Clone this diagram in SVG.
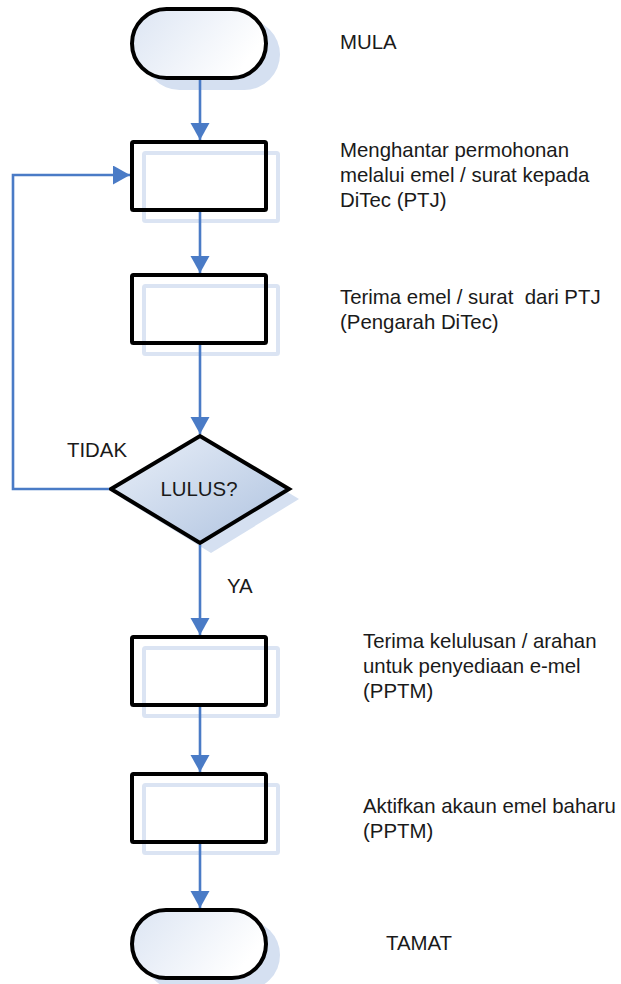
<svg xmlns="http://www.w3.org/2000/svg" width="621" height="984" viewBox="0 0 621 984">
  <defs>
    <linearGradient id="termGrad" x1="0" y1="0" x2="1" y2="0.4">
      <stop offset="0" stop-color="#dce5f3"/>
      <stop offset="1" stop-color="#ffffff"/>
    </linearGradient>
    <linearGradient id="diaGrad" x1="0" y1="0" x2="1" y2="1">
      <stop offset="0" stop-color="#eaf0f9"/>
      <stop offset="1" stop-color="#aec2df"/>
    </linearGradient>
    <marker id="arrow" markerUnits="userSpaceOnUse" markerWidth="18" markerHeight="20" refX="17" refY="9.5" orient="auto" viewBox="0 0 18 20">
      <path d="M0,0 L17,9.5 L0,19 Z" fill="#4a7bc6"/>
    </marker>
    <style>
      .term { fill: url(#termGrad); stroke: #000; stroke-width: 4; }
      .box { fill: none; stroke: #000; stroke-width: 4; }
      .dia { fill: url(#diaGrad); stroke: #000; stroke-width: 4; stroke-linejoin: miter; }
      .shfill { fill: #d5e0f1; stroke: none; }
      .shbox { fill: none; stroke: #dbe4f3; stroke-width: 4; }
      .conn { fill: none; stroke: #4a7bc6; stroke-width: 2.6; }
      .lbl { font-family: "Liberation Sans", Arial, sans-serif; font-size: 20.4px; fill: #1a1a1a; }
    </style>
  </defs>

  <!-- Nodes -->
  <g id="node-mula">
    <rect class="shfill" x="144" y="19" width="136" height="71" rx="35.5"/>
    <rect class="term" x="132" y="9" width="134" height="69" rx="34.5"/>
  </g>
  <g id="node-hantar">
    <rect class="shbox" x="144" y="153" width="134" height="68" rx="1.5"/>
    <rect class="box" x="132" y="142" width="134" height="68" rx="1.5"/>
  </g>
  <g id="node-terima">
    <rect class="shbox" x="144" y="286" width="134" height="68" rx="1.5"/>
    <rect class="box" x="132" y="275" width="134" height="68" rx="1.5"/>
  </g>
  <g id="node-lulus">
    <path class="shfill" d="M123,499 L211,446 L299,499 L211,553 Z"/>
    <path class="dia" d="M111,489 L200,436 L289,489 L200,543 Z"/>
    <text class="lbl" x="199" y="496" text-anchor="middle">LULUS?</text>
  </g>
  <g id="node-kelulusan">
    <rect class="shbox" x="144" y="648" width="134" height="68" rx="1.5"/>
    <rect class="box" x="132" y="637" width="134" height="68" rx="1.5"/>
  </g>
  <g id="node-aktif">
    <rect class="shbox" x="144" y="785" width="134" height="68" rx="1.5"/>
    <rect class="box" x="132" y="774" width="134" height="68" rx="1.5"/>
  </g>
  <g id="node-tamat">
    <rect class="shfill" x="144" y="920" width="136" height="70" rx="35"/>
    <rect class="term" x="132" y="910" width="134" height="68" rx="34"/>
  </g>

  <!-- Connectors -->
  <g id="connectors">
    <path class="conn" d="M200,80 L200,140" marker-end="url(#arrow)"/>
    <path class="conn" d="M200,212 L200,273" marker-end="url(#arrow)"/>
    <path class="conn" d="M200,345 L200,434" marker-end="url(#arrow)"/>
    <path class="conn" d="M200,545 L200,635" marker-end="url(#arrow)"/>
    <path class="conn" d="M200,707 L200,772" marker-end="url(#arrow)"/>
    <path class="conn" d="M200,844 L200,908" marker-end="url(#arrow)"/>
    <path class="conn" d="M109,489 L13,489 L13,175 L130,175" marker-end="url(#arrow)"/>
  </g>

  <!-- Labels -->
  <g id="labels">
    <text class="lbl" x="340" y="49">MULA</text>
    <text class="lbl" x="340" y="157">Menghantar permohonan</text>
    <text class="lbl" x="340" y="182">melalui emel / surat kepada</text>
    <text class="lbl" x="340" y="207">DiTec (PTJ)</text>
    <text class="lbl" x="340" y="304" xml:space="preserve">Terima emel / surat  dari PTJ</text>
    <text class="lbl" x="340" y="329">(Pengarah DiTec)</text>
    <text class="lbl" x="67" y="457">TIDAK</text>
    <text class="lbl" x="227" y="593">YA</text>
    <text class="lbl" x="363" y="648">Terima kelulusan / arahan</text>
    <text class="lbl" x="363" y="673">untuk penyediaan e-mel</text>
    <text class="lbl" x="363" y="698">(PPTM)</text>
    <text class="lbl" x="363" y="813">Aktifkan akaun emel baharu</text>
    <text class="lbl" x="363" y="838">(PPTM)</text>
    <text class="lbl" x="386" y="950">TAMAT</text>
  </g>
</svg>
